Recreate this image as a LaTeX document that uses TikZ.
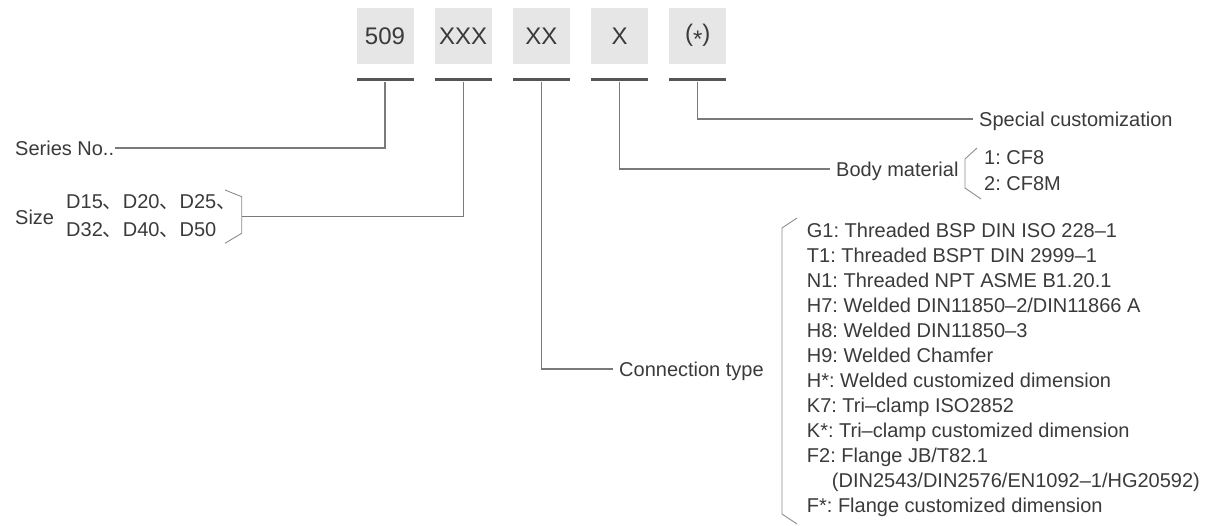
\documentclass[tikz,border=0pt]{standalone}
\usepackage{fontspec}
\setmainfont{Liberation Sans}
\newfontfamily\cjk{Noto Sans CJK SC}
\definecolor{txt}{HTML}{3A3A3A}
\definecolor{boxgray}{HTML}{E6E6E6}
\definecolor{ulgray}{HTML}{555555}
\definecolor{lngray}{HTML}{7A7A7A}
\definecolor{brgray}{HTML}{8C8C8C}
\newcommand{\ic}{{\cjk 、}}
\frenchspacing
\begin{document}
\begin{tikzpicture}[x=1pt,y=-1pt,
  codebox/.style={fill=boxgray, minimum width=57pt, minimum height=56pt, inner sep=0pt,
    font=\fontsize{24}{28}\selectfont, text=txt},
  uline/.style={fill=ulgray, minimum width=57pt, minimum height=3pt, inner sep=0pt},
  lbl/.style={font=\fontsize{20}{26}\selectfont\frenchspacing, text=txt, inner xsep=6pt, inner ysep=0pt,
    text height=14.3pt, text depth=0pt, anchor=west},
  conn/.style={draw=lngray, line width=1.1pt},
  brk/.style={draw=brgray, line width=0.9pt}]
\useasboundingbox (0,0) rectangle (1218,526);

% code boxes
\node[codebox] (b1) at (385,36) {509};
\node[codebox] (b2) at (463.2,36) {XXX};
\node[codebox] (b3) at (541.4,36) {XX};
\node[codebox] (b4) at (619.6,36) {X};
\node[codebox] (b5) at (697.8,36) {(\raisebox{-0.25em}{*})};

% underlines
\node[uline] (u1) at (385,80) {};
\node[uline] (u2) at (463.2,80) {};
\node[uline] (u3) at (541.4,80) {};
\node[uline] (u4) at (619.6,80) {};
\node[uline] (u5) at (697.8,80) {};

% Series No.
\node[lbl, inner xsep=1pt] (series) at (14,148) {Series No..};
\draw[conn] (u1.south) |- (series.east);

% Size
\node[lbl] (size) at (9,217) {Size};
\node[lbl] (sz1) at (60,201) {D15\ic D20\ic D25\ic};
\node[lbl] (sz2) at (60,229) {D32\ic D40\ic D50};
\coordinate (szb) at (241.7,216.7);
\draw[brk] (225,190) -- (241.7,196.7) -- (241.7,233.3) -- (225,243.3);
\draw[conn] (u2.south) |- (szb);

% Connection type
\node[lbl] (conn) at (613,369) {Connection type};
\draw[conn] (u3.south) |- (conn.west);
\draw[brk] (797,218) -- (782,228) -- (782,514) -- (797,524);
\foreach \t [count=\i] in {
  {G1: Threaded BSP DIN ISO 228–1},
  {T1: Threaded BSPT DIN 2999–1},
  {N1: Threaded NPT ASME B1.20.1},
  {H7: Welded DIN11850–2/DIN11866 A},
  {H8: Welded DIN11850–3},
  {H9: Welded Chamfer},
  {H*: Welded customized dimension},
  {K7: Tri–clamp ISO2852},
  {K*: Tri–clamp customized dimension},
  {F2: Flange JB/T82.1},
  {\hspace*{25pt}(DIN2543/DIN2576/EN1092–1/HG20592)},
  {F*: Flange customized dimension}}
  \node[lbl] (c\i) at (800.7,{230+25*(\i-1)}) {\t};

% Body material
\node[lbl] (body) at (830,169) {Body material};
\draw[conn] (u4.south) |- (body.west);
\draw[brk] (977,148) -- (965,159) -- (965,188) -- (981,199);
\node[lbl] (m1) at (978,157) {1: CF8};
\node[lbl] (m2) at (978,183) {2: CF8M};

% Special customization
\node[lbl] (special) at (973,119) {Special customization};
\draw[conn] (u5.south) |- (special.west);
\end{tikzpicture}
\end{document}
